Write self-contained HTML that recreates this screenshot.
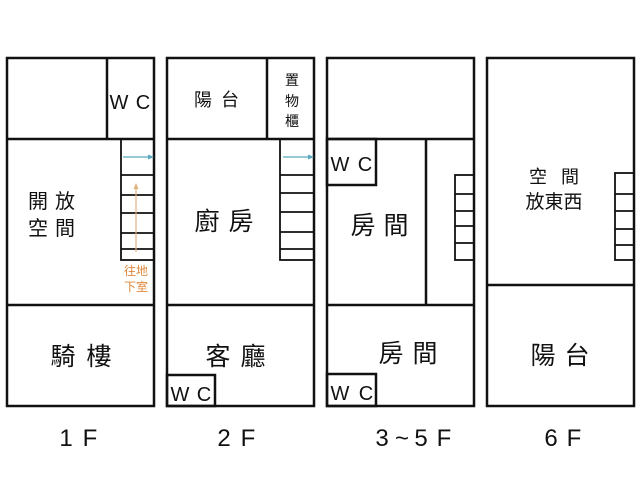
<!DOCTYPE html>
<html><head><meta charset="utf-8"><style>
html,body{margin:0;padding:0;background:#fff;}
svg{display:block;}
text{font-family:"Liberation Sans","Noto Sans CJK TC",sans-serif;fill:#111;text-anchor:middle;}
</style></head><body>
<svg width="640" height="480" viewBox="0 0 640 480" xmlns="http://www.w3.org/2000/svg">
<g fill="none" stroke="#111" stroke-width="2.5">
<rect x="7" y="58" width="147" height="348"/>
<line x1="7" y1="139" x2="154" y2="139"/>
<line x1="7" y1="305" x2="154" y2="305"/>
<line x1="107" y1="58" x2="107" y2="139"/>
<rect x="167" y="58" width="147" height="348"/>
<line x1="167" y1="139" x2="314" y2="139"/>
<line x1="167" y1="305" x2="314" y2="305"/>
<line x1="267" y1="58" x2="267" y2="139"/>
<rect x="167" y="375" width="48" height="31"/>
<rect x="327" y="58" width="147" height="348"/>
<line x1="327" y1="139" x2="474" y2="139"/>
<line x1="327" y1="305" x2="474" y2="305"/>
<line x1="426" y1="139" x2="426" y2="305"/>
<rect x="327" y="139" width="49" height="46"/>
<rect x="327" y="374" width="49" height="32"/>
<rect x="487" y="58" width="147" height="348"/>
<line x1="487" y1="285" x2="634" y2="285"/>
</g>
<g fill="none" stroke="#111" stroke-width="1.8">
<rect x="121" y="139" width="33" height="121"/>
<line x1="121" y1="175" x2="154" y2="175"/>
<line x1="121" y1="195" x2="154" y2="195"/>
<line x1="121" y1="213" x2="154" y2="213"/>
<line x1="121" y1="233" x2="154" y2="233"/>
<line x1="121" y1="249" x2="154" y2="249"/>
<rect x="280" y="139" width="34" height="121"/>
<line x1="280" y1="175" x2="314" y2="175"/>
<line x1="280" y1="193" x2="314" y2="193"/>
<line x1="280" y1="212" x2="314" y2="212"/>
<line x1="280" y1="232" x2="314" y2="232"/>
<line x1="280" y1="249" x2="314" y2="249"/>
<rect x="455" y="175" width="19" height="85"/>
<line x1="455" y1="194" x2="474" y2="194"/>
<line x1="455" y1="211" x2="474" y2="211"/>
<line x1="455" y1="226" x2="474" y2="226"/>
<line x1="455" y1="243" x2="474" y2="243"/>
<rect x="615" y="173" width="19" height="87"/>
<line x1="615" y1="194" x2="634" y2="194"/>
<line x1="615" y1="211" x2="634" y2="211"/>
<line x1="615" y1="229" x2="634" y2="229"/>
<line x1="615" y1="245" x2="634" y2="245"/>
</g>
<g stroke="#5aa9bf" stroke-width="1.2" fill="#5aa9bf">
<line x1="123" y1="157" x2="150" y2="157"/><polygon points="154,157 148,154.5 148,159.5" stroke="none"/>
<line x1="283" y1="157" x2="310" y2="157"/><polygon points="314,157 308,154.5 308,159.5" stroke="none"/>
</g>
<g stroke="#e3b07f" stroke-width="1.2" fill="#e3b07f">
<line x1="136" y1="252" x2="136" y2="188"/><polygon points="136,183 133.5,189 138.5,189" stroke="none"/>
</g>
<text x="136" y="275" font-size="12" style="fill:#e0873a">往地</text>
<text x="136" y="291" font-size="12" style="fill:#e0873a">下室</text>

<g font-size="20">
<text x="119" y="109">W</text><text x="143" y="109">C</text>
<text x="180" y="401">W</text><text x="204" y="401">C</text>
<text x="340" y="171">W</text><text x="365" y="171">C</text>
<text x="340" y="400">W</text><text x="366" y="400">C</text>
<text x="38" y="208">開</text><text x="65" y="208">放</text>
<text x="38" y="235">空</text><text x="65" y="235">間</text>
</g>
<g font-size="25">
<text x="63" y="365">騎</text><text x="99" y="365">樓</text>
<text x="207" y="230">廚</text><text x="241" y="230">房</text>
<text x="218" y="365">客</text><text x="253" y="365">廳</text>
<text x="363" y="234">房</text><text x="396" y="234">間</text>
<text x="391" y="362">房</text><text x="425" y="362">間</text>
<text x="543" y="364">陽</text><text x="577" y="364">台</text>
</g>
<g font-size="18">
<text x="203" y="106">陽</text><text x="230" y="106">台</text>
<text x="538" y="183">空</text><text x="570" y="183">間</text>
</g>
<text x="554" y="208" font-size="19">放東西</text>
<g font-size="14">
<text x="292" y="85">置</text>
<text x="292" y="106">物</text>
<text x="292" y="126">櫃</text>
</g>
<g font-size="24">
<text x="66" y="446">1</text><text x="90" y="446">F</text>
<text x="224" y="446">2</text><text x="248" y="446">F</text>
<text x="382" y="446">3</text><text x="402" y="446">~</text><text x="421" y="446">5</text><text x="444" y="446">F</text>
<text x="551" y="446">6</text><text x="574" y="446">F</text>
</g>
</svg>
</body></html>
